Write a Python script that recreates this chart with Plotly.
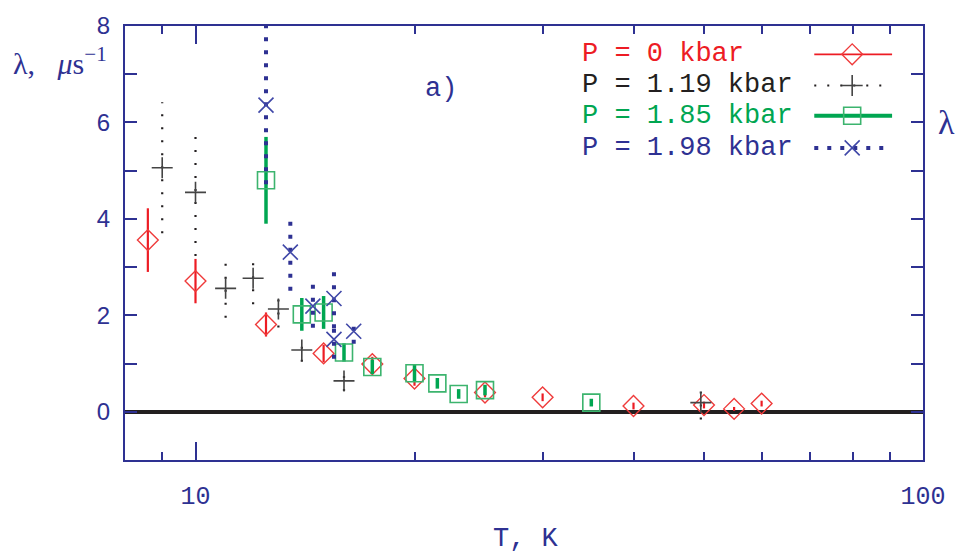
import plotly.graph_objects as go

# Muon relaxation rate vs temperature at four pressures
T_p0 = [8.6, 10.0, 12.5, 15.0, 17.5, 20.0, 25.0, 30.0, 40.0, 50.0, 55.0, 60.0]
L_p0 = [3.56, 2.71, 1.81, 1.21, 0.99, 0.69, 0.40, 0.30, 0.12, 0.14, 0.06, 0.17]
E_p0 = [0.66, 0.46, 0.25, 0.18, 0.15, 0.15, 0.10, 0.08, 0.07, 0.07, 0.04, 0.06]

T_p1 = [9.0, 10.0, 11.0, 12.0, 13.0, 14.0, 16.0, 49.5]
L_p1 = [5.06, 4.55, 2.56, 2.77, 2.13, 1.28, 0.64, 0.19]
E_p1 = [1.36, 1.32, 0.61, 0.54, 0.38, 0.24, 0.21, 0.35]

T_p2 = [12.5, 14.0, 15.0, 16.0, 17.5, 20.0, 21.5, 23.0, 25.0, 35.0]
L_p2 = [4.80, 2.02, 2.06, 1.23, 0.93, 0.80, 0.59, 0.37, 0.45, 0.19]
E_p2 = [0.90, 0.34, 0.34, 0.19, 0.15, 0.17, 0.11, 0.10, 0.11, 0.08]

T_p3 = [12.5, 13.5, 14.5, 15.5, 15.5, 16.5]
L_p3 = [6.36, 3.31, 2.19, 2.35, 1.50, 1.67]
E_p3 = [1.64, 0.80, 0.45, 0.62, 0.40, 0.26]

labels = ["P = 0 kbar", "P = 1.19 kbar", "P = 1.85 kbar", "P = 1.98 kbar"]

x_major = [10, 100]
x_minor = [9, 20, 30, 40, 50, 60, 70, 80, 90]

NAVY = "#2e3192"
RED = "#ed1c24"
BLACK = "#231f20"
GREEN = "#00a651"

MONO = "Liberation Mono, Courier New, monospace"
SERIF = "Liberation Serif, DejaVu Serif, serif"
SANS = "Liberation Sans, Arial, sans-serif"

series = [
    dict(T=T_p0, L=L_p0, E=E_p0, color=RED,
         bar=dict(color=RED, width=2.2),
         marker=dict(symbol="diamond-open", size=16, color="#ef3b3b",
                     line=dict(color="#ef3b3b", width=1.4)),
         legline=dict(color=RED, width=1.8)),
    dict(T=T_p1, L=L_p1, E=E_p1, color=BLACK,
         bar=dict(color=BLACK, width=2.2, dash="2px,11px"),
         marker=dict(symbol="cross-thin-open", size=15, color="#444444",
                     line=dict(color="#444444", width=1.6)),
         legline=dict(color=BLACK, width=2.2, dash="2px,11px")),
    dict(T=T_p2, L=L_p2, E=E_p2, color=GREEN,
         bar=dict(color=GREEN, width=3.5),
         marker=dict(symbol="square-open", size=17, color="#3cb46e",
                     line=dict(color="#3cb46e", width=1.6)),
         legline=dict(color=GREEN, width=4)),
    dict(T=T_p3, L=L_p3, E=E_p3, color=NAVY,
         bar=dict(color=NAVY, width=4, dash="4px,9px"),
         marker=dict(symbol="x-thin-open", size=15, color="#4048a8",
                     line=dict(color="#4048a8", width=1.6)),
         legline=dict(color=NAVY, width=4, dash="4px,9px")),
]

fig = go.Figure()

for s in series:
    ex, ey = [], []
    for t, l, e in zip(s["T"], s["L"], s["E"]):
        ex += [t, t, None]
        ey += [l - e, l + e, None]
    fig.add_trace(go.Scatter(x=ex, y=ey, mode="lines", line=s["bar"],
                             hoverinfo="skip", showlegend=False))
    fig.add_trace(go.Scatter(x=s["T"], y=s["L"], mode="markers",
                             marker=s["marker"], showlegend=False))

# Key: sample lines with symbols on an overlay axis in plot-area fractions
PW, PH, PL, PT = 800.0, 445.0, 125.0, 15.0


def fx(px):
    return (px - PL) / PW


def fy(py):
    return 1 - (py - PT) / PH


key_rows = [44, 76, 107, 140]
for s, lab, row in zip(series, labels, key_rows):
    fig.add_trace(go.Scatter(x=[fx(816), fx(894)], y=[fy(row), fy(row)],
                             mode="lines", line=s["legline"],
                             xaxis="x2", yaxis="y2", hoverinfo="skip",
                             showlegend=False))
    fig.add_trace(go.Scatter(x=[fx(854)], y=[fy(row)], mode="markers",
                             marker=s["marker"], xaxis="x2", yaxis="y2",
                             hoverinfo="skip", showlegend=False))
    fig.add_annotation(xref="paper", yref="paper", x=fx(581), y=fy(row),
                       xanchor="left", yanchor="middle", text=lab,
                       showarrow=False,
                       font=dict(family=MONO, size=27, color=s["color"]))

fig.add_annotation(xref="paper", yref="paper", x=fx(441.5), y=fy(80),
                   xanchor="center", yanchor="middle", text="a)",
                   showarrow=False, font=dict(family=MONO, size=27, color=NAVY))

fig.add_annotation(xref="paper", yref="paper", x=fx(11), y=fy(51),
                   xanchor="left", yanchor="middle",
                   text="λ,   <i>μ</i>s<sup>−1</sup>",
                   showarrow=False, font=dict(family=SERIF, size=30, color=NAVY))

fig.add_annotation(xref="paper", yref="paper", x=fx(938), y=fy(114),
                   xanchor="left", yanchor="middle", text="λ",
                   showarrow=False, font=dict(family=SERIF, size=34, color=NAVY))

fig.add_annotation(xref="paper", yref="paper", x=fx(527), y=fy(541),
                   xanchor="center", yanchor="middle", text="T, K",
                   showarrow=False, font=dict(family=MONO, size=27, color=NAVY))

fig.update_layout(
    width=958, height=555,
    margin=dict(l=125, r=33, t=15, b=95),
    paper_bgcolor="white", plot_bgcolor="white",
    showlegend=False,
    xaxis=dict(
        type="log", range=[0.90309, 2.0],
        tickvals=x_major, ticktext=[str(v) for v in x_major],
        ticks="inside", ticklen=18, tickwidth=2, tickcolor=NAVY,
        minor=dict(tickvals=x_minor, ticks="inside", ticklen=8,
                   tickwidth=2, tickcolor=NAVY, showgrid=False),
        showgrid=False, zeroline=False,
        showline=True, linecolor=NAVY, linewidth=2, mirror="allticks",
        tickfont=dict(family=MONO, size=25, color=NAVY),
        ticklabelstandoff=12,
    ),
    yaxis=dict(
        range=[-1, 8], dtick=2, tick0=0,
        ticks="inside", ticklen=12, tickwidth=2, tickcolor=NAVY,
        minor=dict(dtick=1, ticks="inside", ticklen=12, tickwidth=2,
                   tickcolor=NAVY, showgrid=False),
        showgrid=False,
        zeroline=True, zerolinecolor=BLACK, zerolinewidth=3.5,
        showline=True, linecolor=NAVY, linewidth=2, mirror="allticks",
        tickfont=dict(family=SANS, size=24, color=NAVY),
        ticklabelstandoff=8,
    ),
    xaxis2=dict(domain=[0, 1], range=[0, 1], overlaying="x", visible=False,
                fixedrange=True),
    yaxis2=dict(domain=[0, 1], range=[0, 1], overlaying="y", visible=False,
                fixedrange=True),
)

fig.write_html("out.html")
